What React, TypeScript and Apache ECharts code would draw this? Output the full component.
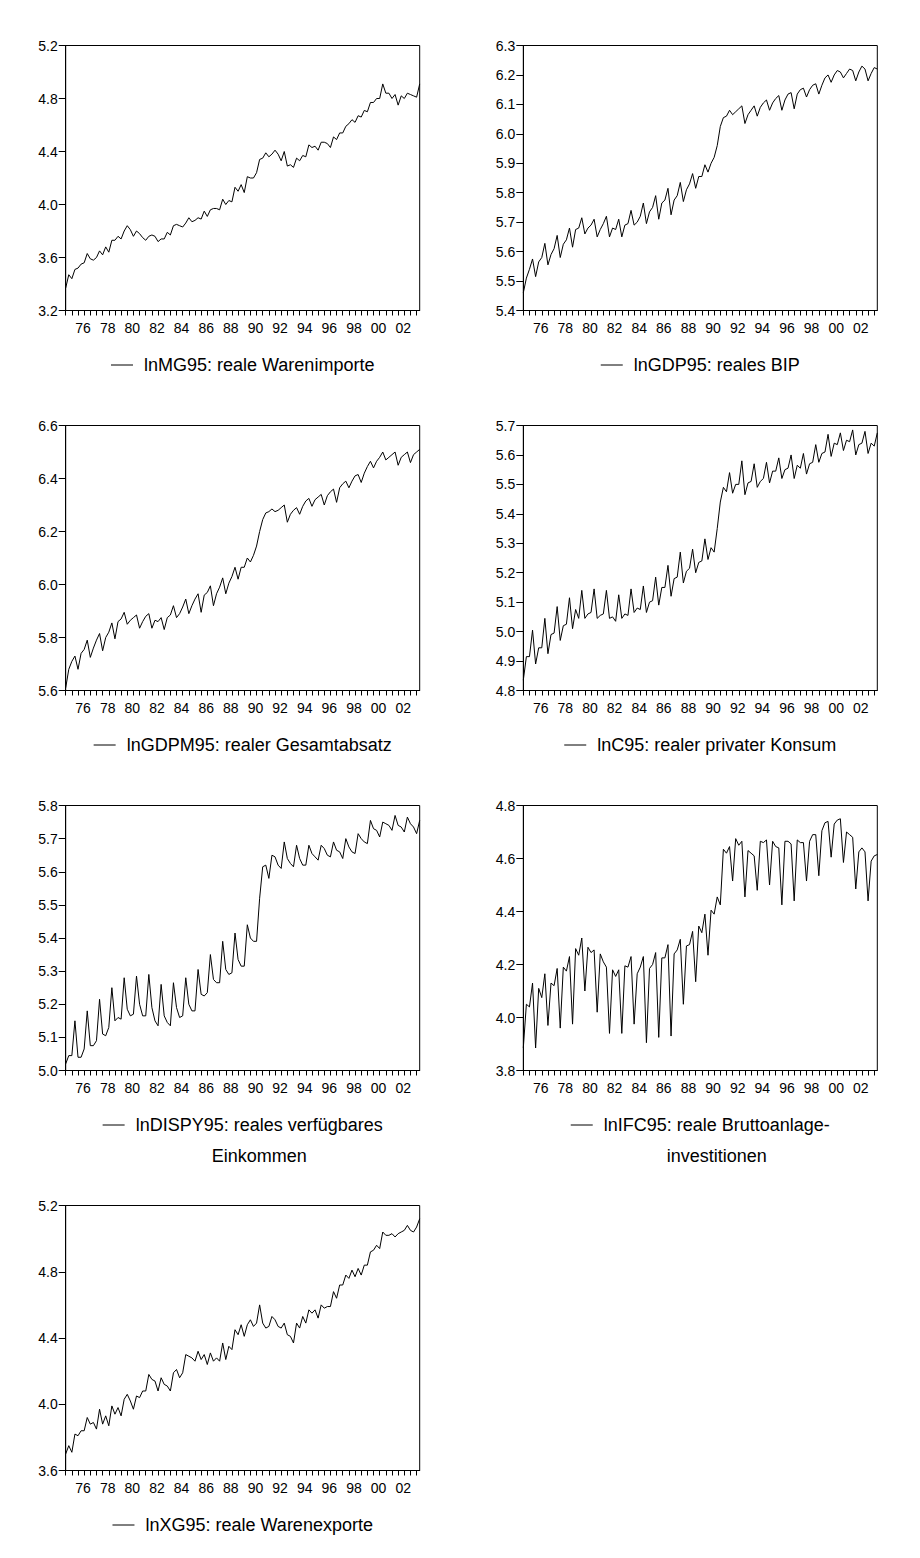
import React, { useEffect, useRef } from "react";
import * as echarts from "echarts";

// ---------- data ----------
const startYear = 1975; // 1975Q1 .. 2003Q4, quarterly
const quarters: string[] = [];
for (let y = 1975; y <= 2003; y++) for (let q = 1; q <= 4; q++) quarters.push(`${y}Q${q}`);

const xTickLabels = ["76", "78", "80", "82", "84", "86", "88", "90", "92", "94", "96", "98", "00", "02"];
const xLabelYears = [1976, 1978, 1980, 1982, 1984, 1986, 1988, 1990, 1992, 1994, 1996, 1998, 2000, 2002];

const lnMG95 = [
  3.37, 3.47, 3.44, 3.51, 3.52, 3.55, 3.56, 3.63, 3.59, 3.58, 3.60, 3.65,
  3.62, 3.68, 3.64, 3.73, 3.73, 3.76, 3.74, 3.80, 3.84, 3.81, 3.76, 3.80,
  3.78, 3.75, 3.73, 3.76, 3.77, 3.76, 3.72, 3.74, 3.74, 3.79, 3.77, 3.84,
  3.85, 3.84, 3.83, 3.86, 3.90, 3.87, 3.88, 3.90, 3.89, 3.95, 3.91, 3.96,
  3.97, 3.97, 3.96, 4.04, 4.00, 4.03, 4.02, 4.13, 4.10, 4.15, 4.09, 4.21,
  4.20, 4.20, 4.24, 4.34, 4.35, 4.39, 4.36, 4.38, 4.41, 4.38, 4.33, 4.40,
  4.29, 4.30, 4.28, 4.35, 4.33, 4.37, 4.36, 4.45, 4.43, 4.44, 4.41, 4.47,
  4.47, 4.46, 4.43, 4.51, 4.49, 4.54, 4.54, 4.59, 4.61, 4.64, 4.62, 4.67,
  4.66, 4.71, 4.70, 4.77, 4.77, 4.80, 4.80, 4.91, 4.84, 4.84, 4.80, 4.83,
  4.75, 4.82, 4.80, 4.84, 4.83, 4.82, 4.81, 4.91,
];

const lnGDP95 = [
  5.46, 5.51, 5.54, 5.575, 5.515, 5.565, 5.58, 5.628, 5.555, 5.59, 5.61, 5.655,
  5.58, 5.625, 5.64, 5.68, 5.615, 5.675, 5.68, 5.715, 5.66, 5.68, 5.69, 5.71,
  5.65, 5.675, 5.695, 5.72, 5.65, 5.68, 5.675, 5.71, 5.65, 5.69, 5.695, 5.74,
  5.69, 5.70, 5.72, 5.765, 5.695, 5.735, 5.75, 5.79, 5.71, 5.765, 5.775, 5.815,
  5.725, 5.775, 5.79, 5.835, 5.77, 5.81, 5.83, 5.865, 5.815, 5.855, 5.855, 5.895,
  5.87, 5.90, 5.92, 5.96, 6.025, 6.055, 6.06, 6.08, 6.065, 6.075, 6.085, 6.095,
  6.035, 6.065, 6.08, 6.095, 6.06, 6.09, 6.105, 6.115, 6.08, 6.105, 6.12, 6.13,
  6.08, 6.115, 6.135, 6.14, 6.085, 6.135, 6.15, 6.155, 6.125, 6.15, 6.165, 6.17,
  6.135, 6.165, 6.19, 6.20, 6.175, 6.20, 6.215, 6.21, 6.19, 6.205, 6.22, 6.215,
  6.18, 6.21, 6.23, 6.22, 6.18, 6.205, 6.225, 6.22,
];

const lnGDPM95 = [
  5.61, 5.68, 5.71, 5.73, 5.68, 5.74, 5.755, 5.79, 5.725, 5.76, 5.79, 5.815,
  5.75, 5.80, 5.82, 5.855, 5.795, 5.86, 5.87, 5.895, 5.85, 5.865, 5.875, 5.885,
  5.835, 5.86, 5.88, 5.89, 5.835, 5.865, 5.86, 5.875, 5.83, 5.875, 5.885, 5.92,
  5.875, 5.89, 5.915, 5.945, 5.89, 5.92, 5.945, 5.965, 5.895, 5.96, 5.97, 5.995,
  5.92, 5.965, 5.99, 6.025, 5.965, 6.005, 6.03, 6.065, 6.02, 6.065, 6.065, 6.10,
  6.085, 6.11, 6.145, 6.20, 6.245, 6.27, 6.275, 6.285, 6.275, 6.28, 6.29, 6.30,
  6.235, 6.265, 6.28, 6.29, 6.265, 6.295, 6.315, 6.325, 6.295, 6.32, 6.33, 6.34,
  6.30, 6.335, 6.35, 6.36, 6.31, 6.365, 6.38, 6.39, 6.365, 6.39, 6.41, 6.415,
  6.385, 6.42, 6.445, 6.465, 6.44, 6.465, 6.48, 6.50, 6.47, 6.48, 6.49, 6.50,
  6.45, 6.48, 6.49, 6.50, 6.46, 6.49, 6.50, 6.51,
];

const lnC95 = [
  4.835, 4.915, 4.915, 5.005, 4.89, 4.945, 4.945, 5.045, 4.925, 4.99, 4.995, 5.085,
  4.97, 5.02, 5.025, 5.115, 5.01, 5.075, 5.045, 5.14, 5.045, 5.06, 5.065, 5.145,
  5.045, 5.055, 5.06, 5.14, 5.045, 5.05, 5.035, 5.125, 5.045, 5.06, 5.055, 5.145,
  5.065, 5.08, 5.075, 5.155, 5.065, 5.10, 5.105, 5.185, 5.09, 5.15, 5.15, 5.225,
  5.12, 5.18, 5.185, 5.27, 5.165, 5.205, 5.215, 5.28, 5.20, 5.235, 5.24, 5.315,
  5.245, 5.285, 5.27, 5.35, 5.44, 5.49, 5.475, 5.54, 5.47, 5.50, 5.50, 5.58,
  5.465, 5.505, 5.51, 5.57, 5.49, 5.51, 5.52, 5.575, 5.505, 5.545, 5.545, 5.59,
  5.52, 5.55, 5.555, 5.60, 5.52, 5.565, 5.555, 5.605, 5.535, 5.57, 5.575, 5.635,
  5.575, 5.605, 5.61, 5.67, 5.595, 5.64, 5.635, 5.675, 5.615, 5.65, 5.645, 5.685,
  5.60, 5.635, 5.64, 5.68, 5.605, 5.64, 5.63, 5.675,
];

const lnDISPY95 = [
  5.02, 5.045, 5.045, 5.15, 5.04, 5.04, 5.065, 5.18, 5.075, 5.075, 5.09, 5.215,
  5.11, 5.105, 5.13, 5.25, 5.15, 5.16, 5.155, 5.28, 5.185, 5.165, 5.17, 5.285,
  5.20, 5.165, 5.165, 5.29, 5.19, 5.15, 5.135, 5.26, 5.165, 5.145, 5.135, 5.265,
  5.19, 5.16, 5.165, 5.28, 5.20, 5.18, 5.18, 5.305, 5.23, 5.225, 5.235, 5.35,
  5.275, 5.265, 5.265, 5.39, 5.305, 5.29, 5.295, 5.415, 5.335, 5.315, 5.315, 5.44,
  5.40, 5.39, 5.39, 5.52, 5.615, 5.62, 5.58, 5.65, 5.645, 5.62, 5.61, 5.69,
  5.64, 5.625, 5.615, 5.68, 5.64, 5.62, 5.62, 5.68, 5.655, 5.645, 5.635, 5.68,
  5.67, 5.65, 5.645, 5.69, 5.665, 5.66, 5.64, 5.70, 5.675, 5.66, 5.655, 5.715,
  5.70, 5.69, 5.685, 5.755, 5.73, 5.725, 5.705, 5.75, 5.745, 5.74, 5.725, 5.77,
  5.74, 5.735, 5.72, 5.765, 5.745, 5.735, 5.715, 5.755,
];

const lnIFC95 = [
  3.885, 4.05, 4.04, 4.13, 3.885, 4.11, 4.075, 4.165, 3.97, 4.13, 4.12, 4.185,
  3.96, 4.19, 4.175, 4.23, 3.975, 4.26, 4.235, 4.30, 4.10, 4.265, 4.245, 4.255,
  4.02, 4.24, 4.21, 4.19, 3.94, 4.18, 4.155, 4.18, 3.94, 4.195, 4.19, 4.23,
  3.975, 4.165, 4.19, 4.23, 3.905, 4.185, 4.20, 4.245, 3.925, 4.225, 4.225, 4.275,
  3.93, 4.24, 4.255, 4.295, 4.05, 4.27, 4.275, 4.325, 4.135, 4.345, 4.32, 4.39,
  4.235, 4.405, 4.39, 4.455, 4.425, 4.635, 4.62, 4.645, 4.515, 4.675, 4.65, 4.665,
  4.455, 4.63, 4.62, 4.61, 4.48, 4.665, 4.66, 4.67, 4.50, 4.665, 4.645, 4.64,
  4.425, 4.665, 4.665, 4.655, 4.44, 4.67, 4.66, 4.66, 4.515, 4.665, 4.69, 4.69,
  4.535, 4.705, 4.735, 4.74, 4.605, 4.73, 4.745, 4.75, 4.585, 4.70, 4.69, 4.68,
  4.485, 4.625, 4.64, 4.625, 4.44, 4.59, 4.61, 4.615,
];

const lnXG95 = [
  3.70, 3.75, 3.71, 3.82, 3.81, 3.84, 3.84, 3.92, 3.88, 3.89, 3.85, 3.97,
  3.88, 3.93, 3.87, 3.99, 3.94, 3.98, 3.93, 4.03, 4.06, 4.02, 3.97, 4.05,
  4.04, 4.08, 4.08, 4.18, 4.15, 4.14, 4.08, 4.16, 4.12, 4.11, 4.08, 4.19,
  4.21, 4.16, 4.19, 4.30, 4.29, 4.28, 4.26, 4.32, 4.27, 4.30, 4.24, 4.31,
  4.26, 4.28, 4.26, 4.37, 4.27, 4.35, 4.33, 4.45, 4.42, 4.48, 4.41, 4.48,
  4.51, 4.47, 4.49, 4.60, 4.49, 4.46, 4.47, 4.53, 4.51, 4.47, 4.46, 4.49,
  4.42, 4.41, 4.37, 4.49, 4.46, 4.53, 4.49, 4.57, 4.55, 4.57, 4.52, 4.60,
  4.58, 4.59, 4.59, 4.68, 4.64, 4.72, 4.72, 4.78, 4.76, 4.81, 4.77, 4.82,
  4.78, 4.84, 4.84, 4.92, 4.93, 4.96, 4.94, 5.04, 5.02, 5.02, 5.03, 5.01,
  5.03, 5.04, 5.05, 5.08, 5.05, 5.04, 5.07, 5.12,
];

const seriesNames = ["lnMG95", "lnGDP95", "lnGDPM95", "lnC95", "lnDISPY95", "lnIFC95", "lnXG95"];
const seriesValues = [lnMG95, lnGDP95, lnGDPM95, lnC95, lnDISPY95, lnIFC95, lnXG95];
const legendLabels = [
  ["lnMG95: reale Warenimporte"],
  ["lnGDP95: reales BIP"],
  ["lnGDPM95: realer Gesamtabsatz"],
  ["lnC95: realer privater Konsum"],
  ["lnDISPY95: reales verfügbares", "Einkommen"],
  ["lnIFC95: reale Bruttoanlage-", "investitionen"],
  ["lnXG95: reale Warenexporte"],
];
const yMins = [3.2, 5.4, 5.6, 4.8, 5.0, 3.8, 3.6];
const yMaxs = [5.2, 6.3, 6.6, 5.7, 5.8, 4.8, 5.2];
const yIntervals = [0.4, 0.1, 0.2, 0.1, 0.1, 0.2, 0.4];

// ---------- layout ----------
const FONT = '"Liberation Sans", Arial, Helvetica, sans-serif';
const colLeft = [65.7, 523.3];
const rowTop = [45.5, 425.5, 805.5, 1205.5];
const PW = 354;
const PH = 265;
const LEGEND_OFFSET = 54.5;
const LEGEND_FS = 18;
const TICK_FS = 14;
const LINE_H = 31;

function measure(text: string, size: number): number {
  const c = document.createElement("canvas").getContext("2d");
  if (!c) return text.length * size * 0.5;
  c.font = `${size}px ${FONT}`;
  return c.measureText(text).width;
}

export default function App() {
  const ref = useRef<HTMLDivElement>(null);

  useEffect(() => {
    if (!ref.current) return;
    const chart = echarts.init(ref.current, undefined, { renderer: "svg" });

    const nQ = quarters.length;
    const tickPositions: number[] = [];
    for (let i = 0; i < nQ; i += 2) tickPositions.push(i);
    const labelPositions = xLabelYears.map((y) => (y - startYear) * 4 + 1.65);

    const grids: any[] = [];
    const xAxes: any[] = [];
    const yAxes: any[] = [];
    const series: any[] = [];
    const graphics: any[] = [];

    seriesValues.forEach((vals, k) => {
      const col = k % 2;
      const row = Math.floor(k / 2);
      const left = colLeft[col];
      const top = rowTop[row];
      grids.push({
        left,
        top,
        width: PW,
        height: PH,
        show: true,
        borderColor: "#000",
        borderWidth: 1,
        backgroundColor: "#fff",
        containLabel: false,
      });
      xAxes.push({
        type: "value",
        gridIndex: k,
        min: 0,
        max: nQ - 1,
        axisLine: { show: true, onZero: false, lineStyle: { color: "#000", width: 1 } },
        axisTick: { show: true, length: 5, customValues: tickPositions, lineStyle: { color: "#000" } },
        axisLabel: {
          show: true,
          customValues: labelPositions,
          margin: 10,
          color: "#000",
          fontSize: TICK_FS,
          fontFamily: FONT,
          formatter: (v: number) => {
            const idx = labelPositions.findIndex((p) => Math.abs(p - v) < 0.01);
            return idx >= 0 ? xTickLabels[idx] : "";
          },
        },
        splitLine: { show: false },
      });
      yAxes.push({
        type: "value",
        gridIndex: k,
        min: yMins[k],
        max: yMaxs[k],
        interval: yIntervals[k],
        axisLine: { show: true, onZero: false, lineStyle: { color: "#000", width: 1 } },
        axisTick: { show: true, length: 7, lineStyle: { color: "#000" } },
        axisLabel: {
          margin: 8,
          color: "#000",
          fontSize: TICK_FS,
          fontFamily: FONT,
          formatter: (v: number) => v.toFixed(1),
        },
        splitLine: { show: false },
      });
      series.push({
        type: "line",
        name: seriesNames[k],
        xAxisIndex: k,
        yAxisIndex: k,
        data: vals.map((v, i) => [i, v]),
        showSymbol: false,
        symbol: "none",
        lineStyle: { color: "#000", width: 1 },
        itemStyle: { color: "#000" },
        silent: true,
      });

      // legend (line sample + text), centred under the panel
      const lines = legendLabels[k];
      const textW = Math.max(...lines.map((t) => measure(t, LEGEND_FS)));
      const sample = 22;
      const gap = 11;
      const blockW = sample + gap + textW;
      const cx = left + PW / 2;
      const x0 = cx - blockW / 2;
      const ly = top + PH + LEGEND_OFFSET;
      graphics.push({
        type: "line",
        shape: { x1: x0, y1: ly, x2: x0 + sample, y2: ly },
        style: { stroke: "#000", lineWidth: 1 },
        silent: true,
      });
      graphics.push({
        type: "text",
        x: x0 + sample + gap + textW / 2,
        y: ly - LINE_H / 2,
        style: {
          text: lines.join("\n"),
          fill: "#000",
          fontSize: LEGEND_FS,
          fontFamily: FONT,
          align: "center",
          verticalAlign: "top",
          lineHeight: LINE_H,
        },
        silent: true,
      });
    });

    chart.setOption({
      animation: false,
      backgroundColor: "#fff",
      grid: grids,
      xAxis: xAxes,
      yAxis: yAxes,
      series,
      graphic: graphics,
    });

    return () => {
      chart.dispose();
    };
  }, []);

  return (
    <div
      ref={ref}
      style={{ position: "absolute", left: 0, top: 0, width: 920, height: 1558, background: "#fff" }}
    />
  );
}
